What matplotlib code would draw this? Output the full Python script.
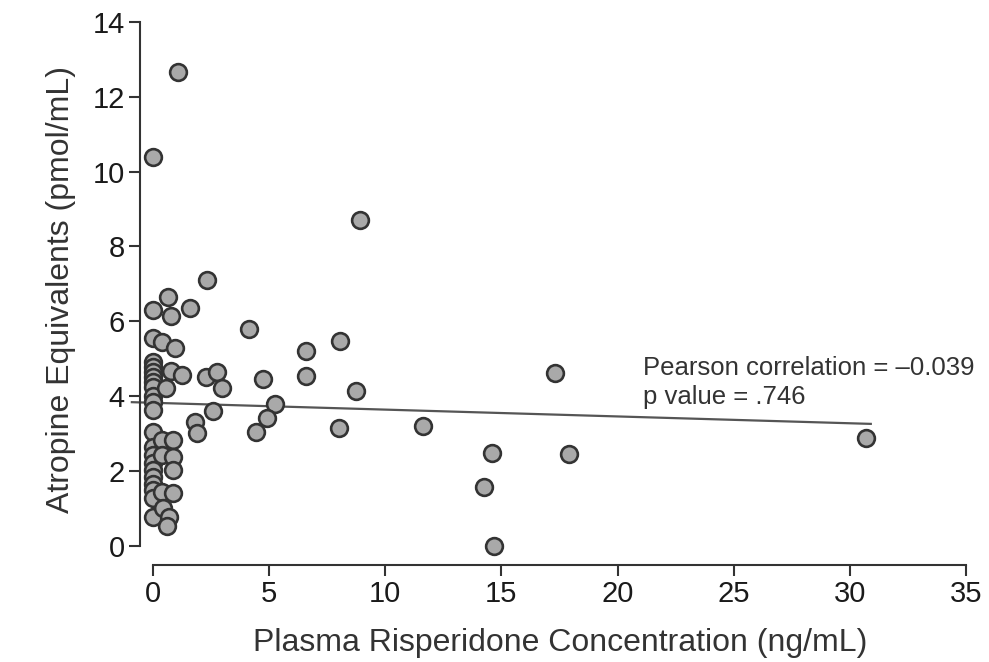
import matplotlib
matplotlib.use('Agg')
import matplotlib.pyplot as plt

plt.rcParams['font.family'] = ['Liberation Sans', 'DejaVu Sans']

# Plasma risperidone concentration (ng/mL) and atropine equivalents (pmol/mL)
x_conc = [0.0, 0.0, 0.0, 0.0, 0.0, 0.0, 0.0, 0.0, 0.0, 0.0, 0.0, 0.0,
          0.0, 0.0, 0.0, 0.0, 0.0, 0.0, 0.0, 0.0, 0.0, 0.0,
          1.07, 8.9, 2.35, 0.65, 1.6, 0.8, 4.15, 0.4, 0.95, 8.05, 6.6,
          0.8, 1.25, 2.3, 2.75, 3.0, 0.55, 4.75, 6.6, 8.75, 17.3,
          5.28, 2.6, 4.93, 1.8, 1.9, 4.45, 8.0, 11.65, 30.7,
          14.6, 17.9, 14.25, 14.7,
          0.4, 0.85, 0.4, 0.85, 0.85, 0.4, 0.85, 0.45, 0.7, 0.6]
y_atro = [10.4, 6.3, 5.55, 4.92, 4.78, 4.65, 4.52, 4.38, 4.25, 4.0, 3.85, 3.63,
          3.05, 2.65, 2.43, 2.22, 2.03, 1.84, 1.65, 1.5, 1.28, 0.78,
          12.65, 8.72, 7.1, 6.65, 6.36, 6.15, 5.8, 5.45, 5.3, 5.48, 5.22,
          4.68, 4.56, 4.5, 4.65, 4.23, 4.22, 4.45, 4.54, 4.14, 4.62,
          3.79, 3.6, 3.42, 3.32, 3.02, 3.05, 3.15, 3.2, 2.88,
          2.48, 2.46, 1.58, 0.0,
          2.83, 2.83, 2.43, 2.38, 2.03, 1.45, 1.42, 1.0, 0.78, 0.52]

# regression line ends
fit_x = [-0.9, 30.9]
fit_y = [3.84, 3.26]

x_ticks = [0, 5, 10, 15, 20, 25, 30, 35]
y_ticks = [0, 2, 4, 6, 8, 10, 12, 14]

fig = plt.figure(figsize=(9.89, 6.62), dpi=100)
ax = fig.add_axes([140 / 989, (662 - 565) / 662, (980 - 140) / 989, (565 - 14) / 662])

ax.plot(fit_x, fit_y, color='#555555', lw=1.6, zorder=1, clip_on=False)
ax.scatter(x_conc, y_atro, s=145, facecolor='#a9a9a9', edgecolor='#333333',
           linewidth=1.9, zorder=2, clip_on=False)

ax.set_xlim(-0.55, 35.6)
ax.set_ylim(-0.51, 14.21)
ax.set_xticks(x_ticks)
ax.set_yticks(y_ticks)
ax.spines['top'].set_visible(False)
ax.spines['right'].set_visible(False)
ax.spines['left'].set_bounds(0, 14)
ax.spines['bottom'].set_bounds(0, 35)
for s in ['left', 'bottom']:
    ax.spines[s].set_linewidth(1.5)
    ax.spines[s].set_color('#333333')
ax.tick_params(direction='out', length=8, width=1.5, colors='#333333',
               labelsize=21, labelcolor='#1a1a1a', pad=3)

ax.set_xlabel('Plasma Risperidone Concentration (ng/mL)', fontsize=23,
              color='#333333', labelpad=14)
ax.set_ylabel('Atropine Equivalents (pmol/mL)', fontsize=23,
              color='#333333', labelpad=12)

ax.text(21.1, 4.74, 'Pearson correlation = \u20130.039', fontsize=18.5,
        color='#333333', va='center', ha='left')
ax.text(21.1, 3.99, 'p value = .746', fontsize=18.5,
        color='#333333', va='center', ha='left')

plt.savefig('out.png', dpi=100)
